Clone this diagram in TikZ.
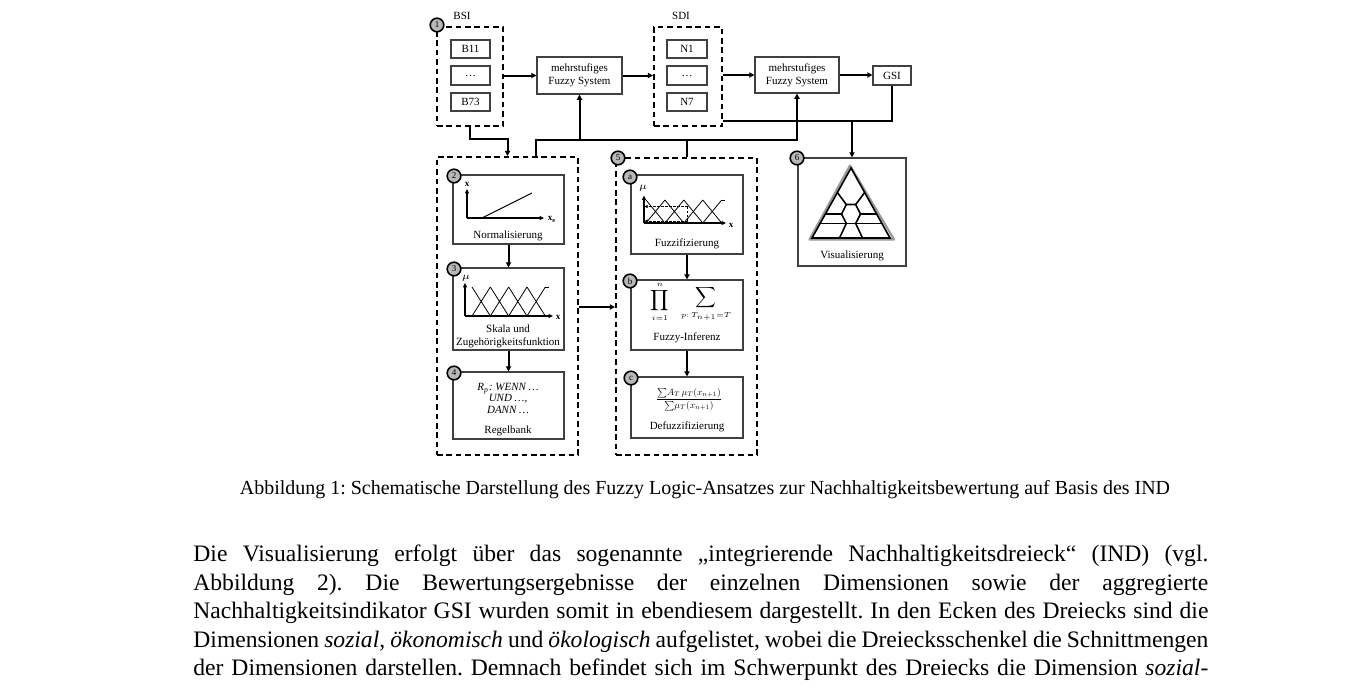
\documentclass[tikz,border=0pt]{standalone}
\usepackage{amsmath}
\usepackage{fontspec}
\setmainfont{Liberation Serif}
\usetikzlibrary{arrows.meta,fit,calc}
\frenchspacing
\begin{document}
\begin{tikzpicture}[x=0.5pt,y=-0.5pt,
  dbox/.style={draw, line width=1pt, dash pattern=on 2.8pt off 1.9pt, inner sep=0pt},
  sbox/.style={draw=black!75, line width=0.55pt, inner sep=0pt},
  circ/.style={circle, draw, line width=0.8pt, fill=black!28, minimum size=6.8pt, inner sep=0pt, font=\fontsize{4.5}{5}\selectfont},
  arr/.style={line width=1pt, -{Triangle[length=2.6pt,width=2.6pt]}},
  conn/.style={line width=1pt},
  lbl/.style={font=\fontsize{5.5}{6.4}\selectfont, inner sep=0pt, align=center},
  axl/.style={font=\fontsize{4.5}{5}\selectfont\bfseries, inner sep=0pt},
  ax/.style={line width=0.6pt, -{Triangle[length=2.2pt,width=2pt]}},
  mf/.style={line width=0.4pt},
  dsh/.style={line width=0.4pt, dash pattern=on 1.2pt off 0.8pt},
  body/.style={font=\fontsize{11.8}{14}\selectfont, inner sep=0pt, anchor=base west},
]
\fill[white] (0,0) rectangle (1354,693);
\useasboundingbox (0,0) rectangle (1354,693);

% ---------- top row ----------
\node[dbox, fit={(437,27)(503,126)}] (bsi) {};
\node[sbox, fit={(451,40)(490,58)}] (b11) {};
\node[sbox, fit={(451,66)(490,85)}] (bdots) {};
\node[sbox, fit={(451,93)(490,111)}] (b73) {};
\node[lbl] at (b11) {B11};
\node[lbl] at (bdots) {\dots};
\node[lbl] at (b73) {B73};
\node[lbl] (bsil) at (462,16) {BSI};

\node[sbox, fit={(537,57)(622,94)}] (fs1) {};
\node[lbl] at (fs1) {mehrstufiges\\Fuzzy System};

\node[dbox, fit={(654,27)(722,126)}] (sdi) {};
\node[sbox, fit={(667,40)(707,58)}] (n1) {};
\node[sbox, fit={(667,66)(707,85)}] (ndots) {};
\node[sbox, fit={(667,93)(707,111)}] (n7) {};
\node[lbl] at (n1) {N1};
\node[lbl] at (ndots) {\dots};
\node[lbl] at (n7) {N7};
\node[lbl] (sdil) at (681,16) {SDI};

\node[sbox, fit={(755,57)(839,93)}] (fs2) {};
\node[lbl] at (fs2) {mehrstufiges\\Fuzzy System};
\node[sbox, fit={(873,66)(911,85)}] (gsi) {};
\node[lbl] at (gsi) {GSI};

% ---------- left dashed group ----------
\node[dbox, fit={(437,157)(578,455)}] (d2) {};
\node[sbox, fit={(453,175)(564,244)}] (box2) {};
\node[sbox, fit={(453,268)(564,350)}] (box3) {};
\node[sbox, fit={(453,372)(564,439)}] (box4) {};

% box 2 content
\draw[ax] (467,218) -- (467,189);
\node[axl] at (467,184) {x};
\draw[ax] (467,218) -- (544,218);
\node[axl] at (552,219) {x\textsubscript{e}};
\draw[line width=0.5pt] (482,218) -- (532,193);
\node[lbl] at (508,236) {Normalisierung};

% box 3 content
\draw[ax] (465,316) -- (465,283);
\node[axl] at (466,278) {$\mu$};
\draw[ax] (465,316) -- (553,316);
\node[axl] at (558,317) {x};
\foreach \i in {0,...,3} {
  \pgfmathsetmacro\xa{472+18.33*\i}
  \pgfmathsetmacro\xb{472+18.33*(\i+1)}
  \draw[mf] (\xa,287) -- (\xb,316) (\xa,316) -- (\xb,287);
}
\draw[mf] (545.3,287) -- (549,287);
\node[lbl] at (508,329) {Skala und};
\node[lbl] at (508,342.5) {Zugehörigkeitsfunktion};

% box 4 content
\node[lbl] at (508,389) {\itshape R\textsubscript{p}: WENN \dots};
\node[lbl] at (508,399) {\itshape UND \dots,};
\node[lbl] at (508,409.5) {\itshape DANN \dots};
\node[lbl] at (508,430.5) {Regelbank};

% ---------- right dashed group ----------
\node[dbox, fit={(616,158)(757,455)}] (d5) {};
\node[sbox, fit={(631,175)(743,254)}] (boxa) {};
\node[sbox, fit={(631,280)(743,350)}] (boxb) {};
\node[sbox, fit={(631,377)(743,438)}] (boxc) {};

% box a content
\draw[ax] (644,223) -- (644,195.5);
\node[axl] at (643,188.5) {$\mu$};
\draw[ax] (644,223) -- (726,223);
\node[axl] at (731,225) {x};
\foreach \i in {0,...,3} {
  \pgfmathsetmacro\xa{646+18.92*\i}
  \pgfmathsetmacro\xb{646+18.92*(\i+1)}
  \draw[mf] (\xa,200) -- (\xb,223) (\xa,223) -- (\xb,200);
}
\draw[mf] (721.7,200) -- (724.5,200);
\draw[dsh] (687.5,206.5) -- (687.5,223);
\draw[dsh, -{Triangle[length=1.6pt,width=1.6pt]}] (687.5,206.5) -- (644.5,206.5);
\draw[dsh, -{Triangle[length=1.6pt,width=1.6pt]}] (687.5,221) -- (644.5,221);
\node[lbl] at (687,244) {Fuzzifizierung};

% box b content
\node[inner sep=0pt] at (660,302) {\scalebox{0.72}{$\displaystyle\prod_{\scriptscriptstyle i=1}^{\scriptscriptstyle n}$}};
\node[inner sep=0pt] at (706,304) {\scalebox{0.72}{$\displaystyle\sum_{\scriptscriptstyle p:\,T_{n+1}=T}$}};
\node[lbl] at (687,338) {Fuzzy-Inferenz};

% box c content
\node[inner sep=0pt] at (689,399.5) {\resizebox{33pt}{!}{$\dfrac{{\textstyle\sum} A_T\,\mu_T(x_{n+1})}{{\textstyle\sum} \mu_T(x_{n+1})}$}};
\node[lbl] at (687,427) {Defuzzifizierung};

% ---------- visualisation ----------
\node[sbox, fit={(798,158)(906,266)}] (box6) {};
\draw[black!40, line width=1.1pt, line join=round] (850,165.5) -- (809.5,239.5) -- (894,239.5) -- cycle;
\draw[line width=0.8pt, fill=white, line join=miter] (851,168) -- (812,238) -- (890,238) -- cycle;
\draw[line width=0.8pt] (837.35,192.5) -- (846.3,204.5) -- (855.7,204.5) -- (864.65,192.5);
\draw[line width=0.8pt] (825.4,214) -- (841.5,214) -- (846.3,204.5);
\draw[line width=0.8pt] (855.7,204.5) -- (860.5,214) -- (876.6,214);
\draw[line width=0.8pt] (841.5,214) -- (846.3,223.5);
\draw[line width=0.8pt] (860.5,214) -- (855.7,223.5);
\draw[line width=0.8pt] (820.1,223.5) -- (881.9,223.5);
\draw[line width=0.8pt] (846.3,223.5) -- (839.5,238);
\draw[line width=0.8pt] (855.7,223.5) -- (862.5,238);
\node[lbl] at (852,256) {Visualisierung};

% ---------- number circles ----------
\node[circ] (c1) at (437,25) {1};
\node[circ] (c2) at (454,176) {2};
\node[circ] (c3) at (454,269) {3};
\node[circ] (c4) at (454,373) {4};
\node[circ] (c5) at (618,158) {5};
\node[circ] (ca) at (630,177) {a};
\node[circ] (cb) at (630,281) {b};
\node[circ] (cc) at (631,378) {c};
\node[circ] (c6) at (797,158) {6};

% ---------- connectors ----------
\coordinate (h121) at (0,121);
\coordinate (h139) at (0,139);
\coordinate (h140) at (0,140);
\coordinate (h307) at (0,307);
\coordinate (x536) at (536,0);

\draw[arr] (bsi.east |- fs1) -- (fs1.west);
\draw[arr] (fs1.east) -- (fs1.east -| sdi.west);
\draw[arr] (sdi.east |- fs2) -- (fs2.west);
\draw[arr] (fs2.east) -- (fs2.east -| gsi.west);
\draw[conn] (sdi.east |- h121) -- (gsi.south |- h121) -- (gsi.south);
\draw[arr] (box6.north |- h121) -- (box6.north);
\draw[arr] (x536 |- d2.north) -- (x536 |- h140) -- (fs2.south |- h140) -- (fs2.south);
\draw[arr] (fs1.south |- h140) -- (fs1.south);
\draw[conn] (d5.north) -- (d5.north |- h140);
\draw[arr] (bsi.south) -- (bsi.south |- h139) -- (d2.north |- h139) -- (d2.north);
\draw[arr] (d2.east |- h307) -- (d5.west |- h307);
\draw[arr] (box2.south) -- (box3.north);
\draw[arr] (box3.south) -- (box4.north);
\draw[arr] (boxa.south) -- (boxb.north);
\draw[arr] (boxb.south) -- (boxc.north);

% ---------- caption and body text ----------
\node[inner sep=0pt, anchor=base] (cap) at (705,494.5) {\resizebox{465pt}{!}{\fontsize{10}{12}\selectfont Abbildung 1: Schematische Darstellung des Fuzzy Logic-Ansatzes zur Nachhaltigkeitsbewertung auf Basis des IND}};

\node[body] (t1) at (193,561.5) {\makebox[507.5pt][s]{Die Visualisierung erfolgt über das sogenannte „integrierende Nachhaltigkeitsdreieck“ (IND) (vgl.}};
\node[body] (t2) at (193,590) {\makebox[507.5pt][s]{Abbildung 2). Die Bewertungsergebnisse der einzelnen Dimensionen sowie der aggregierte}};
\node[body] (t3) at (193,618.5) {\makebox[507.5pt][s]{Nachhaltigkeitsindikator GSI wurden somit in ebendiesem dargestellt. In den Ecken des Dreiecks sind die}};
\node[body] (t4) at (193,647) {\makebox[507.5pt][s]{Dimensionen \textit{sozial}, \textit{ökonomisch} und \textit{ökologisch} aufgelistet, wobei die Dreiecksschenkel die Schnittmengen}};
\node[body] (t5) at (193,675.5) {\makebox[507.5pt][s]{der Dimensionen darstellen. Demnach befindet sich im Schwerpunkt des Dreiecks die Dimension \textit{sozial}-}};
\end{tikzpicture}
\end{document}
